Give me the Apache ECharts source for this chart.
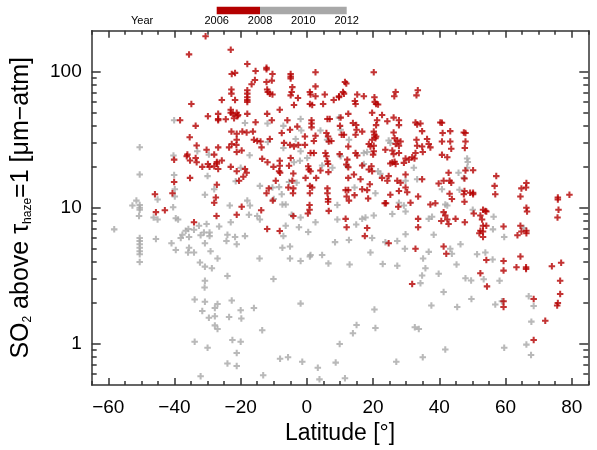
<!DOCTYPE html>
<html>
<head>
<meta charset="utf-8">
<script src="https://cdn.jsdelivr.net/npm/echarts@6/dist/echarts.min.js"></script>
<style>html,body{margin:0;padding:0;background:#fff}#c{width:597px;height:450px}</style>
</head>
<body>
<div id="c"></div>
<script>
// Latitude tick labels and log ticks
const latMajor = [-60, -40, -20, 0, 20, 40, 60, 80];
const latMinor = [-65, -55, -50, -45, -35, -30, -25, -15, -10, -5, 5, 10, 15, 25, 30, 35, 45, 50, 55, 65, 70, 75, 85];
const so2Major = [1, 10, 100];
const so2Minor = [0.6, 0.7, 0.8, 0.9, 2, 3, 4, 5, 6, 7, 8, 9, 20, 30, 40, 50, 60, 70, 80, 90];
const legendYears = ['2006', '2008', '2010', '2012'];

// Observations 2006-2008 (red): [latitude, SO2 column in µm-atm]
const obs2006to2008 = [
[-30.6,182],[-35.6,134],[-34.9,58],[-29.9,47],[-38.3,44],[-33.6,40],[-35.4,33],
[-23.0,145],[-18.0,114],[-12.2,107],[-12.2,104],[-21.7,98],[-22.7,96],[-15.5,101],[-10.4,96],[-4.9,96],[-4.9,92],[-4.9,89],[2.6,99],[-15.7,87],[-16.7,81],[-12.2,84],[-10.6,86],[-4.4,77],[-4.6,71],[-4.9,67],[2.6,78],[-22.8,74],[-22.8,69],[-18.0,73],[-18.0,69],[-18.0,65],[-18.0,62],[-18.0,60],[-12.0,74],[-11.8,71],[-11.2,69],[-10.4,68],[0.9,71],[1.1,68],[2.6,66],[-2.7,64],[5.4,68],[9.7,65],[8.1,62],[-25.7,62],[-21.7,62],[-3.9,57],[0.9,58],[1.6,57],[4.9,58],[-23.0,52.5],[-23.0,50],[-22.4,49],[-21.2,50],[-20.8,48],[-21.0,47],[-18.0,49],[-8.2,52.5],[-12.0,49],[-26.8,49],[-26.8,44],[-26.8,45],[-24.5,44.7],[-22.0,45.5],[-15.5,42.5],[-10.6,44],[-5.9,44],[-2.9,39.5],[1.4,44],[1.4,41.6],[1.4,39],[6.2,45],[6.9,45],[-5.1,37.4],[5.9,35.4],[-22.8,36.3],[-21.2,35],[-19.5,36.3],[-18.2,35.7],[-16.3,36.3],[-21.2,31.6],[-16,31.6],[-15,31],[-14,30.7],[-11.2,32],[-0.6,33.4],[2.6,33.8],[6.4,33.4],[6.6,30.7],[-7.6,35.4],
[20.2,99],[11.5,84],[11.9,82],[10.9,71],[11.2,69],[9.7,66],[15.2,68],[17.2,66],[14.5,61],[14.7,58],[20.4,65],[20.5,60],[20.9,58],[21.5,57.5],[26.8,71],[26.4,66],[33.5,73],[33.1,67],[10.2,46],[12.5,49],[19.7,50],[22.7,48],[26.2,46],[13.9,42],[14.9,40.6],[21.2,44],[20.9,40.5],[24.3,43.3],[27.8,44],[27.8,40.5],[32.8,42.4],[33.3,41],[34.3,41.7],[40.3,42.4],[40.8,42.2],[10,40],[15,37.4],[16.7,36.3],[20.2,36.3],[20.4,34.4],[20.9,33.4],[26.2,35.7],[34.8,36.6],[41,35.4],[43.3,36.6],[47.4,35.7],[10.5,34.4],[11.2,34.4],[14.7,34.4],[19.7,31.6],[20.7,32.4],[26.5,32.4],[27.3,31.2],[28.3,30.7],[33.1,31.6],[36.3,32],[40.8,30.7],[43.3,30.7],[47.9,35.4],[47.9,30.7],
[-40.1,22.6],[-36.1,24.6],[-36.3,23.9],[-33.3,28.7],[-30.3,26.7],[-35.3,22.3],[-33.6,23.2],[-33.3,21.6],[-31.6,20],[-29.9,21],[-29.4,20],[-28,20.2],[-28,24.6],[-40.1,15.5],[-35.3,16.6],[-40.6,12.8],[-28,10.9],[-45.9,12.6],[-45.6,9.3],[-42.9,9.6],[-34.1,7.85],
[-26.8,27.8],[-27.2,21.7],[-27.2,21.1],[-25.7,22.3],[-26.8,19.3],[-23.5,27.8],[-22.7,29.4],[-21.3,29],[-21.2,25.7],[-19.7,26.4],[-23,20],[-21.2,18.6],[-18.7,19.3],[-18.2,18.1],[-19.2,16.9],[-20.5,15.8],[-27.2,14.8],[-27.5,11.9],[-13.7,27.8],[-13.5,22.9],[-11.9,21.6],[-8.2,22.2],[-8.2,20.4],[-8.4,18.6],[-8.1,18.1],[-10.1,20],[-6.9,30],[-4.9,23.2],[-5.4,20.4],[-4.1,17.9],[-5.1,29],[-3.9,28.2],[-2.6,29],[-0.6,29],[1.1,25.3],[2.1,25.3],[0.6,19.1],[1.1,18.6],[0.4,20.2],[2.1,31],[-4.4,15.8],[-5.6,14.1],[-4.1,13.9],[-4.2,12.8],[-0.4,16.6],[2.8,16.6],[0.9,14.5],[1.6,14.1],[0.9,12.8],[7.4,31],[5.6,25.3],[5.9,23.9],[6.2,22],[6.4,21],[4.1,18.8],[6.5,18.3],[6.2,13.9],[6.2,12.8],[6.4,11.6],[6.4,11.1],[6.6,9.5],[0.8,10.5],[0.8,9.7],[0.3,9.1],[-4.1,8.7],[-11.5,13.9],[-12.2,12.8],[-9.4,15.8],[-10.3,11.3],[-19.7,10.2],[-13.8,9.6],[-21.2,8.9],[-27.3,8.7],[-12,7.0],[-8.2,6.75],
[12.5,28.2],[9.9,24.8],[12.2,22.6],[11.9,20.8],[12.5,19.9],[14.7,25.3],[15.2,24.2],[18.7,29.4],[19.2,28.2],[20.2,28.6],[20.2,26],[20,24.6],[26.8,29.4],[27.8,28.6],[23.7,26.7],[25.8,26.4],[27.8,25.3],[26.2,24.8],[33.3,28.6],[32.8,25.3],[35,25.7],[34.8,28.2],[36.8,29.4],[37.3,27.8],[29.8,23],[30.8,22.6],[31.8,23.5],[32.5,23],[29.3,21.4],[25.8,21.5],[26.5,21.8],[26.8,21],[25.2,21.2],[18.7,19.1],[19.7,18.6],[19.5,20.2],[16.7,20.5],[16.2,16.2],[14.2,17.6],[12.5,16.6],[11.7,13.5],[12.5,13.5],[16.7,13.7],[18.2,13.5],[19,14.9],[22.7,16.6],[24.3,15.8],[24.7,17.1],[27.3,15.8],[28.3,15.3],[29.8,17.6],[34.8,16.2],[29.8,14.1],[30.3,13],[27.8,13.3],[25.2,12.5],[18.5,11.7],[12,12.1],[12.7,11.3],[14.4,12.4],[23.5,10.8],[23.9,10.8],[27.6,10.2],[31.3,10.9],[33.6,12.1],[37.3,10.6],[38.8,10.8],[39.8,15.1],[41.3,15.8],[40.8,24.5],[42.4,23.5],[43.6,27.2],[42.8,18.1],[43.1,15.8],[43.6,15.3],[47.4,12.6],[43.1,12.7],[43.8,11.6],[41.3,9.3],[41.8,8.8],[42.4,8.2],[40.6,8],[42.8,7.6],[44.9,8.3],[33.6,8.3],[33.6,7.2],[11.7,8.3],[12,7.2],[18.2,7.1],[17.5,6.2],[24.7,5.5],[32.8,5.0],[41.3,5.2],[42.1,4.6],
[47.7,27.5],[47.9,18.8],[50.2,18.9],[47.6,16.4],[57.2,17.1],[56.7,14.5],[56.9,12.6],[47.6,13.3],[49.3,12.9],[50.2,12.9],[50.2,12.6],[47.6,11.1],[66.3,15.2],[66.2,14.1],[64.8,13.9],[64.5,12.1],[75.8,11.9],[75.8,11.5],[79.3,12.5],[66.3,10],[66.5,9.4],[76,9.7],[75.7,8.5],[53.2,9.7],[53.9,9.5],[54.2,9.4],[50.4,9.1],[52.4,8.8],[52.9,8.2],[47.7,7.85],[53.2,7.4],[54.2,7.4],[52.4,6.8],[53.2,6.7],[52.1,6.5],[53.2,6.1],[59.4,7.3],[64.5,7.4],[64.8,6.7],[63.6,6.3],[66.3,6.8],[66.3,6.5],[64.5,4.4],
[31.8,2.76],[54.2,4.14],[52.4,3.31],[54.4,2.65],[59.4,4.07],[59.4,3.46],[63.3,3.66],[66.2,3.66],[66.2,3.56],[74,3.72],[76.8,3.95],[76.5,2.91],[76.5,2.33],[75.8,2.0],[75.6,1.92],[72,1.48],[68.5,2.14],[68.5,1.07],[59.4,2.06],[59.4,1.87]
];

// Observations 2008-2012 (grey): [latitude, SO2 column in µm-atm]
const obs2008to2012 = [
[-40.1,44],
[-18.7,42],[-11.9,41.6],[-7.1,40],[-1.9,45],[9.7,46],[-1.7,37],[4.1,37],[-11.8,30.4],[-3.4,32],[6.1,31.6],
[10.2,37.4],[12.7,31.6],[24.7,31.2],
[-50.5,27.9],[-50.5,17.6],[-40.3,24.2],[-33.1,26],[-29.6,24.6],[-40.1,17.4],[-39.9,13.7],[-39.9,12.1],[-30,17.1],[-28,13.7],[-30.8,12.5],[-51.5,11.3],[-52.7,10.4],[-50.5,10.5],[-50.5,10],[-50.5,9.7],[-45.1,11.5],[-40.4,10.1],[-50.7,8.7],[-46.3,8.5],[-45.1,8.2],[-39.6,8.4],[-38.9,8.2],[-58.2,6.95],[-50.5,6.0],[-50.5,5.7],[-50.5,5.4],[-50.5,5.1],[-50.5,4.8],[-50.5,4.57],[-45.6,5.9],[-40.9,5.5],[-39.6,4.9],[-37.6,6.35],[-38.1,6.0],[-36.6,6.8],[-35.8,7.0],[-34.1,6.9],[-35.6,6.1],[-35.6,5.1],[-34.1,4.7],[-32.1,6.3],[-31.1,6.6],[-30.8,5.5],[-30.3,7.6],[-29.4,6.6],[-29.4,6.2],[-29.1,4.8],[-32.6,7.4],
[-17.3,24.3],[-20,19.7],[-21.5,15.7],[-7.1,27.5],[-3.9,21.6],[-1.9,26],[0.1,23.2],[-2.1,22.2],[-5.4,15.5],[-3.1,15.3],[4.6,20.5],[7.7,19.7],[-4.6,8.9],[-1.9,8.5],[-10,11.6],[-10.4,14.1],[-8.4,14.2],[-14.2,14.5],[-7.6,12.6],[-7.4,10.6],[-6.4,10.6],[-18,11.3],[-17.2,10.4],[-23.3,10.4],[-17.5,8.9],[-15,8.7],[-14.2,8.2],[-23,7.85],[-26.5,7.3],[-6.4,7.4],[-7.1,6.2],[-2.4,7.2],[0.4,6.65],[2.6,7.85],[-24,6.35],[-21.7,6.1],[-18.7,6.2],[-24.3,5.7],[-21.2,5.4],[-7.4,5.1],[-5.1,5.2],[8.5,5.6],[1.1,4.5],[4.6,4.5],[9.2,10.5],
[10.2,23.9],[17.2,25.3],[18.2,25.7],[25.2,29.9],[32.3,19.7],[17.2,21],[12.2,20.2],[14.4,14.1],[21.5,18.6],[22.2,17.8],[29.8,15.8],[33.3,16.2],[20.7,12.8],[27.8,10.9],[29.3,10.4],[40.8,13.7],[45.8,18.1],[47.4,16.6],[46.1,13.6],[41.8,10.6],[42.4,10.4],[37.8,8.6],[36.8,8.3],[29.8,9.4],[25.8,9],[20.2,8.8],[17.7,8.5],[16.7,8.3],[14.9,7.55],[19.7,6.0],[29.8,6.4],[12.7,5.8],[9.2,8.2],[23.7,5.6],[27.3,5.7],[38.3,6.35],[29.6,5.0],[36.8,4.75],[19.2,4.7],[43.3,5.0],[43.8,4.6],[46.4,5.4],
[48.4,23],[48.6,21.7],[48.4,19.7],[50.1,9.7],[56.4,8.6],[56.2,6.95],[59.6,6.1],[65.5,7.1],[51.4,4.57],[53.9,4.7],
[12.9,3.84],[22.9,3.87],[27.3,3.75],[35.1,4.25],[35.8,3.6],[34.8,3.18],[34.3,2.8],[39.8,3.28],[45.2,3.84],[47.9,3.04],[49.6,2.93],[53.4,2.99],[56.1,4.18],[58.2,2.91],[67,2.24],[68.5,1.9],[67.8,1.46],[66.3,0.99],[67.7,0.83],[58.9,2.06],[56.9,1.95],[49.7,2.14],[45.4,1.87],[41.3,2.41],[37.6,1.92],[20.4,1.79],[15,1.38],[13.9,1.2],[20.7,1.31],[32.6,1.33],[33.8,1.29],[9.9,1.0],[8.7,0.73],[11.5,0.56],[27,0.74],[35,0.8],[41.8,0.91],[59.6,0.94],
[-50.5,4.0],[-35.9,4.7],[-32.3,3.97],[-30.8,3.7],[-28.7,3.6],[-30.8,2.91],[-30.9,2.6],[-33.9,2.12],[-30.8,2.04],[-31.6,1.75],[-29.6,1.56],[-27.8,1.6],[-27.8,1.84],[-27.8,1.37],[-33.9,1.04],[-30,0.94],[-32.1,0.58],
[-27,4.25],[-24,3.16],[-14.3,4.25],[-10.1,3.0],[-5.1,4.25],[-1.9,4.07],[0.9,4.4],[6.5,3.91],[-27,1.97],[-22.7,2.09],[-20,1.77],[-16,1.84],[-23.5,1.58],[-19.8,1.54],[-27,1.29],[-13.5,1.26],[-22.5,1.07],[-20,1.04],[-1.9,1.98],[-21.2,0.86],[-24,0.72],[-21.2,0.69],[-8.1,0.78],[-5.7,0.8],[-1.4,0.74],[3.3,0.67],[-13.2,0.59],[3.8,0.55]
];

const RED = '#B40000';
const GREY = '#A8A8A8';
const AXIS = '#333333';
const FONT = '"Liberation Sans", Arial, sans-serif';
const PLUS = 'path://M2.4,0H4.6V2.4H7V4.6H4.6V7H2.4V4.6H0V2.4H2.4Z';

const chart = echarts.init(document.getElementById('c'), null, {renderer: 'canvas'});

function xAx(pos, vals, len, showLine, showLabel, name) {
  return {
    type: 'value', position: pos, min: -65, max: 85,
    axisLine: {show: showLine, onZero: false, lineStyle: {color: AXIS, width: 1.5}},
    axisTick: {show: true, inside: true, length: len, customValues: vals, lineStyle: {color: AXIS, width: 1.5}},
    axisLabel: {show: showLabel, customValues: latMajor, margin: 13, color: '#000', fontSize: 19, fontFamily: FONT,
      formatter: v => String(v).replace('-', '\u2212')},
    splitLine: {show: false},
    name: name || '', nameLocation: 'middle', nameGap: 37,
    nameTextStyle: {color: '#000', fontSize: 23, fontFamily: FONT}
  };
}
function yAx(pos, vals, len, showLine, showLabel, withName) {
  const a = {
    type: 'log', logBase: 10, position: pos, min: 0.5, max: 200,
    axisLine: {show: showLine, onZero: false, lineStyle: {color: AXIS, width: 1.5}},
    axisTick: {show: true, inside: true, length: len, customValues: vals, lineStyle: {color: AXIS, width: 1.5}},
    axisLabel: {show: showLabel, customValues: so2Major, margin: 10, color: '#000', fontSize: 19, fontFamily: FONT},
    splitLine: {show: false}
  };
  if (withName) {
    a.name = 'SO{sub|2} above \u03c4{sub|haze}=1 [\u03bcm\u2212atm]';
    a.nameLocation = 'middle';
    a.nameGap = 58;
    a.nameRotate = 90;
    a.nameTextStyle = {color: '#000', fontSize: 25, fontFamily: FONT,
      rich: {sub: {fontSize: 12, fontFamily: FONT, color: '#000', verticalAlign: 'bottom', padding: [10, 0, 0, 0]}}};
  }
  return a;
}

chart.setOption({
  animation: false,
  backgroundColor: '#fff',
  grid: {left: 91.7, right: 8.7, top: 30.7, bottom: 60.7, containLabel: false},
  xAxis: [
    xAx('bottom', latMajor, 7, true, true, 'Latitude [\u00b0]'),
    xAx('bottom', latMinor, 4, false, false),
    xAx('top', latMajor, 7, true, false),
    xAx('top', latMinor, 4, false, false)
  ],
  yAxis: [
    yAx('left', so2Major, 9, true, true, true),
    yAx('left', so2Minor, 5, false, false, false),
    yAx('right', so2Major, 9, true, false, false),
    yAx('right', so2Minor, 5, false, false, false)
  ],
  series: [
    {type: 'scatter', name: '2008-2012', data: obs2008to2012, symbol: PLUS, symbolSize: 6.5,
      itemStyle: {color: GREY}, silent: true, z: 2},
    {type: 'scatter', name: '2006-2008', data: obs2006to2008, symbol: PLUS, symbolSize: 6.5,
      itemStyle: {color: RED}, silent: true, z: 3}
  ],
  graphic: [
    {type: 'text', left: 131, top: 15, style: {text: 'Year', fontSize: 11, fontFamily: FONT, fill: '#000'}},
    {type: 'rect', shape: {x: 216.7, y: 6.7, width: 43.3, height: 7.6}, style: {fill: RED}},
    {type: 'rect', shape: {x: 260, y: 6.7, width: 86.7, height: 7.6}, style: {fill: GREY}},
    ...legendYears.map((t, i) => ({type: 'text', x: 216.7 + i * 43.33, y: 21,
      style: {text: t, fontSize: 11, fontFamily: FONT, fill: '#000', align: 'center', verticalAlign: 'middle'}}))
  ]
});
</script>
</body>
</html>
